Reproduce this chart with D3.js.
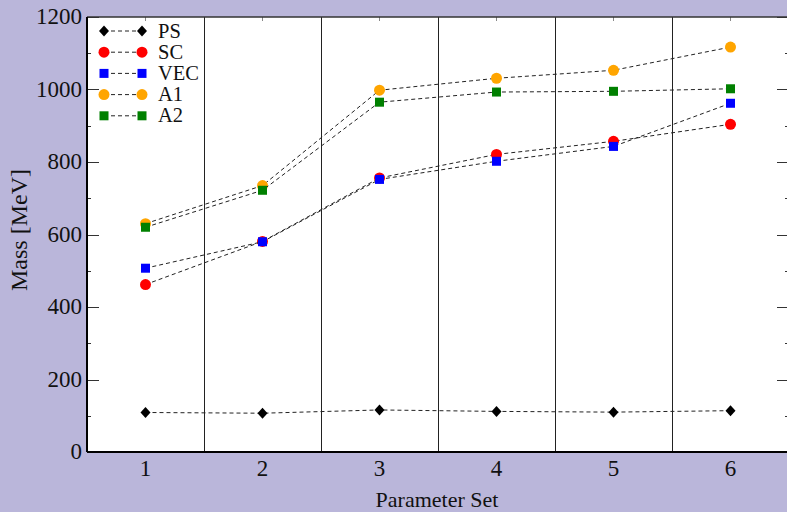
<!DOCTYPE html>
<html lang="en">
<head>
  <meta charset="UTF-8">
  <title>Mass vs Parameter Set</title>
  <style>
    *{ margin:0; padding:0; }
    body{ background:#bab6da; }
    svg{ display:block; }
    text{ font-family:"Liberation Serif","DejaVu Serif",serif; fill:#111; }
  </style>
  <script src="https://cdn.jsdelivr.net/npm/d3@7"></script>
</head>
<body>
  <svg id="mainsvg"></svg>
  <script>
    // data
    const paramSets = [1, 2, 3, 4, 5, 6]
    const seriesNames = ['PS', 'SC', 'VEC', 'A1', 'A2']
    const psMass  = [109, 107, 116, 112, 110, 114]
    const scMass  = [462, 581, 756, 821, 857, 904]
    const vecMass = [507, 580, 752, 802, 843, 962]
    const a1Mass  = [630, 735, 998, 1031, 1053, 1117]
    const a2Mass  = [620, 722, 965, 993, 995, 1002]
    const yTicks = [0, 200, 400, 600, 800, 1000, 1200]

    const series = [
      { name: 'PS',  values: psMass,  color: '#000000', shape: 'diamond' },
      { name: 'SC',  values: scMass,  color: '#ff0000', shape: 'circle' },
      { name: 'VEC', values: vecMass, color: '#0000ff', shape: 'square' },
      { name: 'A1',  values: a1Mass,  color: '#ffa500', shape: 'circle' },
      { name: 'A2',  values: a2Mass,  color: '#008000', shape: 'square' }
    ]

    const width = 787, height = 512
    const margin = { left: 87, top: 17, right: -2, bottom: 60 }
    const svg = d3.select('#mainsvg').attr('width', width).attr('height', height)

    const x = d3.scaleLinear().domain([0.5, 6.5]).range([margin.left, width - margin.right])
    const y = d3.scaleLinear().domain([0, 1200]).range([height - margin.bottom, margin.top])

    // plot area
    svg.append('rect')
      .attr('x', x(0.5)).attr('y', y(1200))
      .attr('width', x(6.5) - x(0.5)).attr('height', y(0) - y(1200))
      .attr('fill', '#fff')

    // separators between parameter sets
    svg.selectAll('line.sep').data(paramSets.slice(0, -1)).join('line')
      .attr('class', 'sep')
      .attr('x1', d => Math.round(x(d + 0.5)) + 0.5).attr('x2', d => Math.round(x(d + 0.5)) + 0.5)
      .attr('y1', y(1200)).attr('y2', y(0))
      .attr('stroke', '#222').attr('stroke-width', 1)

    // minor + major y ticks, both sides
    const minor = d3.range(0, 1201, 100)
    ;[x(0.5), x(6.5)].forEach((xx, i) => {
      const dir = i === 0 ? 1 : -1
      svg.append('g').selectAll('line').data(minor).join('line')
        .attr('x1', xx).attr('x2', d => xx + dir * (d % 200 === 0 ? 12 : 4))
        .attr('y1', d => Math.round(y(d)) + 0.5).attr('y2', d => Math.round(y(d)) + 0.5)
        .attr('stroke', '#333').attr('stroke-width', 1)
    })
    // x ticks on top
    svg.append('g').selectAll('line').data(paramSets).join('line')
      .attr('x1', d => x(d)).attr('x2', d => x(d))
      .attr('y1', y(1200)).attr('y2', y(1200) + 4)
      .attr('stroke', '#888')

    // frame
    svg.append('line').attr('x1', x(0.5)).attr('x2', x(6.5)).attr('y1', y(1200)).attr('y2', y(1200))
      .attr('stroke', '#333').attr('stroke-width', 1.5)
    svg.append('line').attr('x1', x(0.5)).attr('x2', x(6.5)).attr('y1', y(0)).attr('y2', y(0))
      .attr('stroke', '#000').attr('stroke-width', 2)
    svg.append('line').attr('x1', x(0.5)).attr('x2', x(0.5)).attr('y1', y(1200)).attr('y2', y(0))
      .attr('stroke', '#000').attr('stroke-width', 2)

    // tick labels
    svg.append('g').selectAll('text').data(yTicks).join('text')
      .attr('x', 82).attr('y', d => y(d) + 7)
      .attr('text-anchor', 'end').attr('font-size', 23)
      .text(d => d)
    svg.append('g').selectAll('text').data(paramSets).join('text')
      .attr('x', d => x(d)).attr('y', 476)
      .attr('text-anchor', 'middle').attr('font-size', 23)
      .text(d => d)

    // axis titles
    svg.append('text').attr('x', 437).attr('y', 507)
      .attr('text-anchor', 'middle').attr('font-size', 22).text('Parameter Set')
    svg.append('text')
      .attr('transform', `translate(27,230) rotate(-90)`)
      .attr('text-anchor', 'middle').attr('font-size', 24).text('Mass [MeV]')

    function drawMarker(g, shape, color, cx, cy) {
      if (shape === 'circle') {
        g.append('circle').attr('cx', cx).attr('cy', cy).attr('r', 5.5).attr('fill', color)
      } else if (shape === 'square') {
        g.append('rect').attr('x', cx - 4.5).attr('y', cy - 4.5).attr('width', 9).attr('height', 9).attr('fill', color)
      } else {
        g.append('path').attr('d', `M${cx},${cy - 5.5}L${cx + 5},${cy}L${cx},${cy + 5.5}L${cx - 5},${cy}Z`).attr('fill', color)
      }
    }

    const line = d3.line().x((d, i) => x(paramSets[i])).y(d => y(d))

    series.forEach(s => {
      const g = svg.append('g')
      g.append('path').datum(s.values).attr('d', line)
        .attr('fill', 'none').attr('stroke', '#222').attr('stroke-width', 1)
        .attr('stroke-dasharray', '4,3')
      s.values.forEach((v, i) => drawMarker(g, s.shape, s.color, x(paramSets[i]), y(v)))
    })

    // legend
    const lg = svg.append('g')
    series.forEach((s, i) => {
      const ly = 31 + i * 21.2
      lg.append('line').attr('x1', 104).attr('x2', 142).attr('y1', ly).attr('y2', ly)
        .attr('stroke', '#222').attr('stroke-dasharray', '4,3')
      drawMarker(lg, s.shape, s.color, 104, ly)
      drawMarker(lg, s.shape, s.color, 142, ly)
      lg.append('text').attr('x', 158).attr('y', ly + 6.5).attr('font-size', 20.5).text(s.name)
    })
  </script>
</body>
</html>
